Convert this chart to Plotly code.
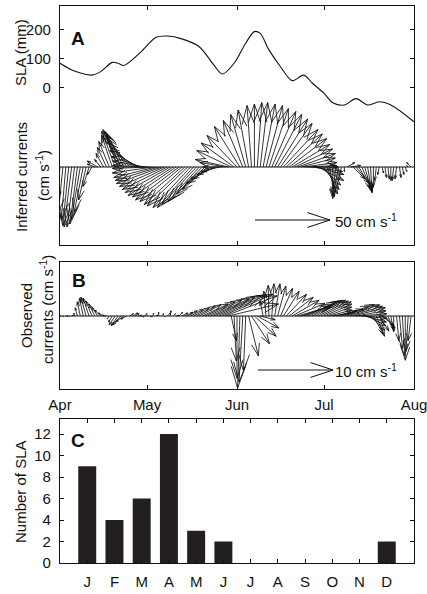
import math
import plotly.graph_objects as go

FONT = "Liberation Sans, Arial, Helvetica, sans-serif"

# ---------------- data ----------------
month_tick_days = [0, 30, 61, 91, 122]
month_tick_labels = ["Apr", "May", "Jun", "Jul", "Aug"]

sla_day = [0, 5, 11, 14, 18, 20, 22, 28, 33, 37, 42, 48, 53, 56, 60, 64, 67, 69, 72, 76,
           80, 84, 87, 91, 94, 98, 102, 106, 110, 114, 122]
sla_mm = [83, 56, 42, 54, 86, 83, 75, 123, 172, 177, 167, 140, 77, 46, 83, 152, 192, 186, 129, 71,
          23, 42, 14, -21, -53, -61, -39, -61, -50, -61, -119]

# inferred currents (cm/s), one per day from 1 Apr
inferred_u = [-2, -3, -3, -4, -5, -5, -5, -6, -6, -5,
              -4, -3, -5, -7, -4, -5, -6, -7, -7, -9,
              -10, -11, -12, -13, -15, -16, -17, -19, -20, -21,
              -23, -25, -27, -28, -29, -30, -30, -30, -30, -30,
              -29, -29, -28, -27, -27, -25, -24, -23, -21, -20,
              -19, -17, -16, -15, -13, -12, -13, -17, -22, -23,
              -22, -20, -17, -13, -10, -7, -3, 0, 3, 5,
              8, 11, 13, 16, 18, 20, 21, 23, 24, 25,
              25, 25, 25, 23, 22, 20, 19, 20, 19, 17,
              13, 10, 7, 3, 0, -2, -3, -2, 0, 5,
              7, 8, 9, 8, 7, 5, 3, 1, 0, -1,
              -1, 1, 1, 1, 0, -1, -1, 1, 1, 1,
              -1, -3]
inferred_v = [-23, -30, -35, -39, -40, -40, -38, -35, -30, -22,
              -13, -5, 2, 4, 5, 9, 13, 17, 21, 24,
              25, 24, 23, 21, 19, 16, 13, 11, 7, 4,
              1, -1, -4, -7, -9, -11, -13, -15, -17, -19,
              -20, -22, -23, -25, -26, -27, -27, -25, -23, -21,
              -18, -15, -11, -8, -5, -3, 0, 3, 5, 11,
              16, 21, 27, 31, 35, 38, 41, 42, 43, 43,
              42, 41, 39, 37, 35, 32, 29, 25, 22, 19,
              15, 12, 9, 6, 3, 1, 0, -3, -5, -9,
              -12, -15, -18, -20, -21, -19, -15, -9, -3, 3,
              1, -8, -11, -14, -16, -17, -17, -16, -13, -9,
              -5, -4, -7, -8, -9, -9, -8, -7, -5, -3,
              1, 3]

# observed currents (cm/s), one per day from 1 Apr
observed_u = [0.1, 0.1, 0.3, 0.1, 0.3, -0.1, -0.3, -0.4, -0.5, -0.7,
              -0.8, -0.8, -0.8, -0.8, -0.8, -0.7, -0.5, -0.3, -0.5, -0.8,
              -0.9, -1.1, -1.1, -0.8, 0.5, 0.7, 0.5, 0.4, 0.3, 0.4,
              0.1, 0.3, 0.1, 0.3, 0.0, 0.3, 0.1, 0.4, 0.1, 0.3,
              0.4, 0.5, 0.8, 1.1, 1.3, 1.7, 2.1, 2.5, 2.9, 3.5,
              4.0, 4.5, 5.1, 5.5, 5.9, 6.3, 6.7, 6.9, 6.7, 0.7,
              0.3, 0.0, -0.3, -0.5, -0.3, 1.3, 2.4, 2.9, 2.9, 2.0,
              -0.4, -0.3, -0.1, 0.3, 0.7, 1.1, 1.6, 2.1, 2.7, 3.2,
              3.6, 4.0, 4.3, 4.0, 4.0, 4.0, 4.0, 4.0, 4.0, 4.0,
              4.0, 3.7, 3.3, 2.9, 2.7, 2.9, 3.3, 3.7, 4.0, 4.3,
              4.3, 4.3, 4.0, 3.7, 3.3, 2.9, 2.4, 1.9, 1.3, 1.1,
              1.3, 1.6, 1.3, 0.8, 0.3, 0.0, 0.3, 0.4, 0.3, 0.0,
              -0.3, -0.4]
observed_v = [0.0, -0.1, 0.0, -0.1, 0.1, 0.4, 1.1, 1.9, 2.4, 2.5,
              2.4, 2.0, 1.6, 1.2, 0.8, 0.4, 0.1, -0.4, -0.8, -1.2,
              -1.3, -1.2, -0.8, -0.4, 0.3, 0.4, 0.3, 0.1, -0.1, 0.3,
              0.1, -0.1, 0.4, 0.1, 0.5, 0.3, -0.1, 0.4, 0.7, 0.3,
              0.1, 0.5, 0.4, 0.5, 0.7, 0.9, 1.1, 1.3, 1.5, 1.6,
              1.9, 2.1, 2.3, 2.5, 2.7, 2.8, 2.9, 2.7, 1.6, -3.3,
              -6.0, -8.3, -9.6, -8.8, -7.3, -5.3, -3.7, -2.7, -1.6, -0.5,
              2.0, 3.3, 4.1, 4.3, 4.3, 4.0, 3.7, 3.3, 2.9, 2.5,
              2.1, 1.7, 1.3, 1.3, 1.6, 1.9, 2.0, 2.1, 2.1, 2.0,
              1.9, 1.6, 1.2, 0.8, 0.5, 0.7, 0.9, 1.3, 1.5, 1.5,
              1.3, 1.1, 0.7, 0.3, -0.3, -0.8, -1.3, -1.9, -2.4, -2.7,
              -2.0, -1.3, -1.6, -1.9, -1.6, -2.1, -3.3, -4.3, -5.3, -5.9,
              -4.7, -3.3]

months_c = ["J", "F", "M", "A", "M", "J", "J", "A", "S", "O", "N", "D"]
sla_counts = [9, 4, 6, 12, 3, 2, 0, 0, 0, 0, 0, 2]

# ---------------- geometry (window pixels) ----------------
W, H = 427, 594
PX_L, PX_R = 60, 414
A_T, A_B = 6, 245
B_T, B_B = 262, 389
C_T, C_B = 419, 563
A_BASE, B_BASE = 167, 316
A_SCALE, B_SCALE = 1.5, 7.5      # px per cm/s
N_DAYS = 122
px_per_day = (PX_R - PX_L) / N_DAYS


def px2x(p):
    return p / W


def py2y(p):
    return 1 - p / H


def ydom(t, b):
    return [py2y(b), py2y(t)]


xdom = [px2x(PX_L), px2x(PX_R)]
yA2_range = [-(A_B - A_BASE) / A_SCALE, (A_BASE - A_T) / A_SCALE]
yB_range = [-(B_B - B_BASE) / B_SCALE, (B_BASE - B_T) / B_SCALE]
sla_range = [-(A_B - 87.3) / 0.29, (87.3 - A_T) / 0.29]


def arrow(xs, ys, x0, y0, u, v, scale, alpha=0.3, beta=0.33):
    pu, pv = u * scale, v * scale
    tx = x0 + pu / px_per_day
    ty = y0 + v
    xs += [x0, tx, None]
    ys += [y0, ty, None]
    if pu == 0 and pv == 0:
        return
    h1x = pu - alpha * (pu + beta * pv)
    h1y = pv - alpha * (pv - beta * pu)
    h2x = pu - alpha * (pu - beta * pv)
    h2y = pv - alpha * (pv + beta * pu)
    xs += [x0 + h1x / px_per_day, tx, x0 + h2x / px_per_day, None]
    ys += [y0 + h1y / scale, ty, y0 + h2y / scale, None]


def sticks(u, v, scale):
    xs, ys = [], []
    for t, (uu, vv) in enumerate(zip(u, v)):
        arrow(xs, ys, t, 0.0, uu, vv, scale)
    return xs, ys


fig = go.Figure()
LW = 0.85
BLACK = "#111111"

# Panel A: SLA
fig.add_trace(go.Scatter(x=sla_day, y=sla_mm, mode="lines",
                         line=dict(color=BLACK, width=1.1, shape="spline", smoothing=0.9),
                         xaxis="x", yaxis="y", hoverinfo="skip"))
# Panel A: inferred sticks
ax, ay = sticks(inferred_u, inferred_v, A_SCALE)
fig.add_trace(go.Scatter(x=ax, y=ay, mode="lines", line=dict(color=BLACK, width=LW),
                         xaxis="x", yaxis="y2", hoverinfo="skip"))
fig.add_trace(go.Scatter(x=[0, N_DAYS], y=[0, 0], mode="lines", line=dict(color=BLACK, width=1.2),
                         xaxis="x", yaxis="y2", hoverinfo="skip"))
sx, sy = [], []
arrow(sx, sy, (255 - PX_L) / px_per_day, (A_BASE - 220) / A_SCALE, 50, 0, A_SCALE)
fig.add_trace(go.Scatter(x=sx, y=sy, mode="lines", line=dict(color=BLACK, width=1),
                         xaxis="x", yaxis="y2", hoverinfo="skip"))

# Panel B: observed sticks
bx, by = sticks(observed_u, observed_v, B_SCALE)
fig.add_trace(go.Scatter(x=bx, y=by, mode="lines", line=dict(color=BLACK, width=LW),
                         xaxis="x2", yaxis="y3", hoverinfo="skip"))
fig.add_trace(go.Scatter(x=[0, N_DAYS], y=[0, 0], mode="lines", line=dict(color=BLACK, width=1.2),
                         xaxis="x2", yaxis="y3", hoverinfo="skip"))
sx, sy = [], []
arrow(sx, sy, (258 - PX_L) / px_per_day, (B_BASE - 370) / B_SCALE, 10, 0, B_SCALE)
fig.add_trace(go.Scatter(x=sx, y=sy, mode="lines", line=dict(color=BLACK, width=1),
                         xaxis="x2", yaxis="y3", hoverinfo="skip"))

# Panel C: bars
fig.add_trace(go.Bar(x=list(range(1, 13)), y=sla_counts, width=0.66,
                     marker=dict(color="#231f20", line=dict(width=0)),
                     xaxis="x3", yaxis="y4", hoverinfo="skip"))

axis_common = dict(showline=True, linecolor=BLACK, linewidth=1.2, mirror="ticks",
                   ticks="inside", ticklen=4, tickcolor=BLACK, tickwidth=1,
                   showgrid=False, zeroline=False, automargin=False,
                   ticklabeloverflow="allow",
                   tickfont=dict(family=FONT, size=15, color=BLACK))

fig.update_layout(
    width=W, height=H, margin=dict(l=0, r=0, t=0, b=0, autoexpand=False),
    paper_bgcolor="white", plot_bgcolor="white", showlegend=False,
    font=dict(family=FONT, size=15, color=BLACK),
    xaxis=dict(domain=xdom, anchor="y", range=[0, N_DAYS], tickvals=month_tick_days[1:-1],
               showticklabels=False, **axis_common),
    yaxis=dict(domain=ydom(A_T, A_B), anchor="x", range=sla_range, tickvals=[0, 100, 200],
               ticklabelstandoff=5, **axis_common),
    yaxis2=dict(overlaying="y", anchor="x", range=yA2_range, visible=False),
    xaxis2=dict(domain=xdom, anchor="y3", range=[0, N_DAYS], tickvals=month_tick_days,
                ticktext=month_tick_labels, ticklabelstandoff=2, **axis_common),
    yaxis3=dict(domain=ydom(B_T, B_B), anchor="x2", range=yB_range, tickvals=[],
                showticklabels=False, **axis_common),
    xaxis3=dict(domain=xdom, anchor="y4", range=[0, 13], tickvals=list(range(1, 13)),
                ticktext=months_c, ticklabelstandoff=5, **axis_common),
    yaxis4=dict(domain=ydom(C_T, C_B), anchor="x3", range=[0, 13.4], tickvals=list(range(0, 13, 2)),
                ticklabelstandoff=5, **axis_common),
)

ann = []


def txt(x, y, s, size=15, bold=False, angle=0, xanchor="center"):
    ann.append(dict(x=px2x(x), y=py2y(y), xref="paper", yref="paper", text=f"<b>{s}</b>" if bold else s,
                    showarrow=False, textangle=angle, xanchor=xanchor, yanchor="middle",
                    font=dict(family=FONT, size=size, color=BLACK)))


txt(78, 38, "A", size=19, bold=True)
txt(79, 280, "B", size=19, bold=True)
txt(78, 440, "C", size=19, bold=True)
txt(333, 220, "50 cm s<sup>-1</sup>", size=15, xanchor="left")
txt(333, 370, "10 cm s<sup>-1</sup>", size=15, xanchor="left")
txt(21, 53, "SLA (mm)", angle=-90)
txt(21, 177, "Inferred currents", angle=-90)
txt(42, 176, "(cm s<sup>-1</sup>)", angle=-90)
txt(26, 316, "Observed", angle=-90)
txt(46, 310, "currents (cm s<sup>-1</sup>)", angle=-90)
txt(20, 492, "Number of SLA", angle=-90)
fig.update_layout(annotations=ann)

fig.write_html("out.html", config={"displayModeBar": False},
               post_script="document.body.style.margin='0';document.body.style.overflow='hidden';")
